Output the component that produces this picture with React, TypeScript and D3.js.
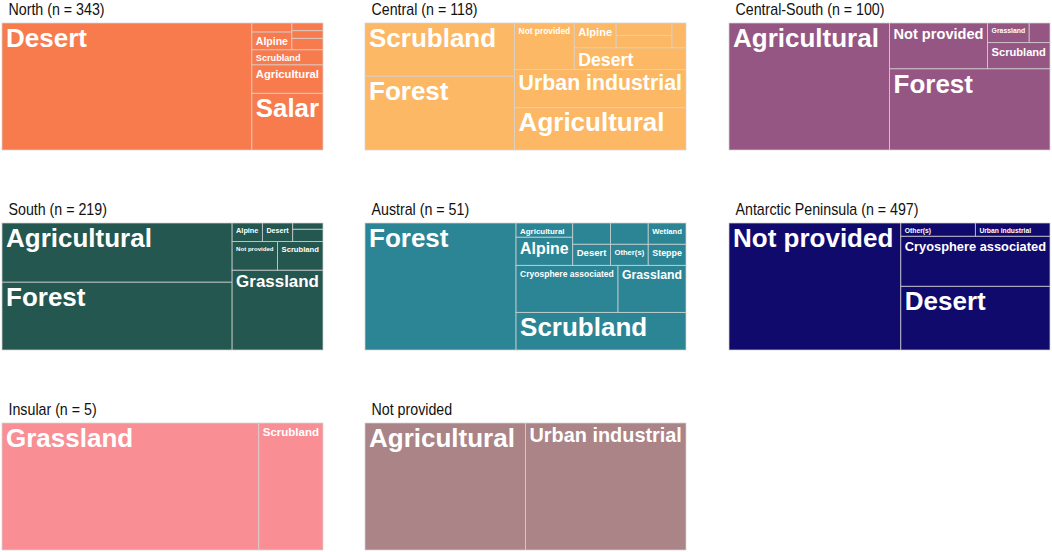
import React from 'react';
import * as d3 from 'd3';

// regions, in panel order (left to right, top to bottom)
const regionNames = ['North', 'Central', 'Central-South', 'South', 'Austral', 'Antarctic Peninsula', 'Insular', 'Not provided'];
const regionN = [343, 118, 100, 219, 51, 497, 5, null];
const regionColors = ['#f87b4e', '#fcb864', '#955684', '#24574f', '#2c8595', '#110a6d', '#f98f94', '#aa8487'];

// habitat counts per region
const northHabitats = ['Desert', 'Salar', 'Agricultural', 'Scrubland', 'Alpine', 'Grassland', 'Not provided', 'Urban industrial', 'Wetland'];
const northCounts = [267, 34, 17, 9, 6, 3, 3, 2, 2];

const centralHabitats = ['Forest', 'Scrubland', 'Agricultural', 'Urban industrial', 'Not provided', 'Desert', 'Alpine', 'Grassland', 'Wetland', 'Steppe'];
const centralCounts = [32, 23, 21, 19, 8, 7, 3, 2, 2, 1];

const centralSouthHabitats = ['Agricultural', 'Forest', 'Not provided', 'Scrubland', 'Grassland', 'Urban industrial'];
const centralSouthCounts = [50, 32, 11, 4, 2, 1];

const southHabitats = ['Forest', 'Agricultural', 'Grassland', 'Not provided', 'Scrubland', 'Alpine', 'Desert', 'Wetland', 'Urban industrial'];
const southCounts = [84, 73, 39, 7, 7, 3, 3, 2, 1];

const australHabitats = ['Forest', 'Scrubland', 'Cryosphere associated', 'Grassland', 'Alpine', 'Agricultural', 'Desert', 'Not provided', 'Other(s)', 'Steppe', 'Urban industrial', 'Wetland'];
const australCounts = [24, 8, 6, 4, 2, 1, 1, 1, 1, 1, 1, 1];

const antarcticHabitats = ['Not provided', 'Desert', 'Cryosphere associated', 'Other(s)', 'Urban industrial'];
const antarcticCounts = [266, 116, 91, 12, 12];

const insularHabitats = ['Grassland', 'Scrubland'];
const insularCounts = [4, 1];

const notProvidedHabitats = ['Agricultural', 'Urban industrial'];
const notProvidedCounts = [1, 1];

const habitatLists = [northHabitats, centralHabitats, centralSouthHabitats, southHabitats, australHabitats, antarcticHabitats, insularHabitats, notProvidedHabitats];
const countLists = [northCounts, centralCounts, centralSouthCounts, southCounts, australCounts, antarcticCounts, insularCounts, notProvidedCounts];

const panelW = 321;
const panelH = 127;
const colX = [2, 365, 729];
const rowY = [23, 223, 423];
const maxFont = 26;
const minFont = 5.8;
const pad = 4;
const labelFont = '"Liberation Sans", Arial, Helvetica, sans-serif';

let ctx: CanvasRenderingContext2D | null = null;
function textEm(s: string) {
  if (!ctx) ctx = document.createElement('canvas').getContext('2d');
  if (!ctx) return s.length * 0.6;
  ctx.font = `bold 100px ${labelFont}`;
  return ctx.measureText(s).width / 100;
}

// squarified tiling (ratio 1) where a tie in aspect ratio starts a new row
function squarifyStrict(parent: any, x0: number, y0: number, x1: number, y1: number) {
  const nodes = parent.children;
  const n = nodes.length;
  let value = parent.value;
  let i0 = 0;
  while (i0 < n) {
    const dx = x1 - x0;
    const dy = y1 - y0;
    const alpha = Math.max(dy / dx, dx / dy) / value;
    let i1 = i0;
    let sum = nodes[i1++].value;
    let minV = sum;
    let maxV = sum;
    let beta = sum * sum * alpha;
    let best = Math.max(maxV / beta, beta / minV);
    for (; i1 < n; ++i1) {
      const v = nodes[i1].value;
      const s = sum + v;
      const mn = Math.min(minV, v);
      const mx = Math.max(maxV, v);
      beta = s * s * alpha;
      const r = Math.max(mx / beta, beta / mn);
      if (r >= best) break;
      sum = s;
      minV = mn;
      maxV = mx;
      best = r;
    }
    const row: any = { value: sum, children: nodes.slice(i0, i1) };
    if (dx < dy) {
      const ny = dy ? y0 + (dy * sum) / value : y1;
      d3.treemapDice(row, x0, y0, x1, ny);
      y0 = ny;
    } else {
      const nx = dx ? x0 + (dx * sum) / value : x1;
      d3.treemapSlice(row, x0, y0, nx, y1);
      x0 = nx;
    }
    value -= sum;
    i0 = i1;
  }
}

type Leaf = { name: string; value: number };

function Panel({ idx }: { idx: number }) {
  const names = habitatLists[idx];
  const counts = countLists[idx];
  const root = d3
    .hierarchy<any>({ children: names.map((name, i) => ({ name, value: counts[i] })) })
    .sum((d: any) => d.value ?? 0)
    .sort((a, b) => (b.value ?? 0) - (a.value ?? 0));

  // layout in a unit square, then stretched onto the panel (origin bottom-left)
  d3.treemap<any>().tile(squarifyStrict).size([1, 1])(root);

  const left = colX[idx % 3];
  const top = rowY[Math.floor(idx / 3)];
  const x = d3.scaleLinear().domain([0, 1]).range([left, left + panelW]);
  const y = d3.scaleLinear().domain([0, 1]).range([top + panelH, top]);

  const n = regionN[idx];
  const title = n == null ? regionNames[idx] : `${regionNames[idx]} (n = ${n})`;

  return (
    <g>
      <text
        transform={`translate(${left + 6.5},${top - 7.6}) scale(0.89,1)`}
        fontFamily={labelFont}
        fontSize={16}
        fill="#111"
      >
        {title}
      </text>
      {root.leaves().map((leaf: any) => {
        const d = leaf.data as Leaf;
        const rx = x(leaf.x0);
        const rw = x(leaf.x1) - x(leaf.x0);
        const ry = y(leaf.y1);
        const rh = y(leaf.y0) - y(leaf.y1);
        const fs = Math.min(maxFont, (rw - 2 * pad) / textEm(d.name), (rh - 8) / 0.77);
        return (
          <g key={d.name}>
            <rect
              x={rx}
              y={ry}
              width={rw}
              height={rh}
              fill={regionColors[idx]}
              stroke="#d4d4d4"
              strokeOpacity={0.8}
              strokeWidth={0.9}
            />
            {fs >= minFont && (
              <text
                x={rx + pad}
                y={ry + 5.2 + 0.716 * fs}
                fontFamily={labelFont}
                fontWeight="bold"
                fontSize={fs}
                fill="#fff"
              >
                {d.name}
              </text>
            )}
          </g>
        );
      })}
    </g>
  );
}

export default function App() {
  return (
    <svg
      width={1052}
      height={552}
      style={{ position: 'absolute', left: 0, top: 0, background: '#fff' }}
    >
      {regionNames.map((_, i) => (
        <Panel key={i} idx={i} />
      ))}
    </svg>
  );
}
